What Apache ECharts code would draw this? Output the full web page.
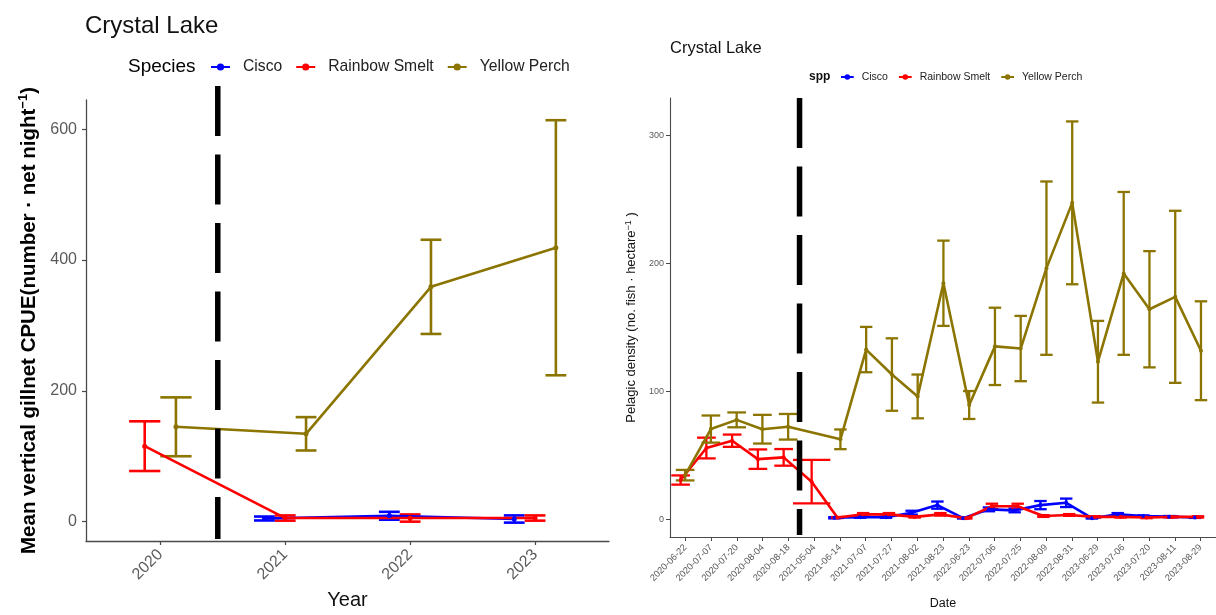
<!DOCTYPE html>
<html>
<head>
<meta charset="utf-8">
<script src="https://cdn.jsdelivr.net/npm/echarts@6/dist/echarts.min.js"></script>
<style>
  html, body { margin: 0; padding: 0; background: #fff; }
  #wrap { position: relative; width: 1216px; height: 615px; overflow: hidden; }
  #left { position: absolute; left: 0; top: 0; width: 610px; height: 615px; }
  #right { position: absolute; left: 610px; top: 0; width: 606px; height: 615px; }
</style>
</head>
<body>
<div id="wrap"><div id="left"></div><div id="right"></div></div>
<script>
// ---- Species ----
const SPECIES = ['Cisco', 'Rainbow Smelt', 'Yellow Perch'];
const SPECIES_COLORS = ['#0000FF', '#FF0000', '#8B7500'];

// ---- Vertical gillnet CPUE, by year (mean and standard error) ----
const years = [2020, 2021, 2022, 2023];
const gillCiscoMean = [null, 4.8, 9, 4];
const gillCiscoSE   = [null, 3, 6, 5.5];
const gillSmeltMean = [115.4, 5.5, 5.5, 5.5];
const gillSmeltSE   = [38, 4, 5.5, 4];
const gillPerchMean = [145, 134.3, 359, 418.8];
const gillPerchSE   = [45, 25.5, 72, 195];
const gillYTicks = [0, 200, 400, 600];
const gillBreakYear = 2020.46;

// ---- Pelagic density, by survey date (mean and standard error) ----
const surveyDates = ['2020-06-22', '2020-07-07', '2020-07-20', '2020-08-04', '2020-08-18',
  '2021-05-04', '2021-06-14', '2021-07-07', '2021-07-27', '2021-08-02', '2021-08-23',
  '2022-06-23', '2022-07-06', '2022-07-25', '2022-08-09', '2022-08-31',
  '2023-06-29', '2023-07-06', '2023-07-20', '2023-08-11', '2023-08-29'];
const densCiscoMean = [null, null, null, null, null, null, 1.5, 2, 2, 5.5, 11.4, 1.2, 8.1, 7.3, 11.4, 13.2, 1.2, 4.2, 2.9, 2.4, 1.7];
const densCiscoSE   = [null, null, null, null, null, null, 0.5, 0.5, 0.5, 1.5, 2.8, 0.3, 1.5, 1.5, 3.2, 3.3, 0.3, 1, 0.5, 0.5, 0.3];
const densSmeltMean = [31, 56, 61.7, 47.3, 48.7, 29.7, 1.7, 4.2, 4.2, 2.2, 4.2, 1.2, 10.5, 10.5, 2.9, 3.7, 2.2, 2.2, 1.7, 2.2, 2.2];
const densSmeltSE   = [3.6, 8.1, 4.8, 7.6, 6.5, 17, 0.4, 1, 1, 0.5, 1, 0.3, 2, 2, 0.7, 0.7, 0.5, 0.5, 0.5, 0.5, 0.5];
const densPerchMean = [34.8, 70.8, 78, 70.7, 72.6, null, 62.8, 132.9, 113.4, 96.3, 184.7, 89.6, 135.4, 133.7, 196.5, 247.5, 123.4, 192.4, 164.4, 174.1, 132];
const densPerchSE   = [4.1, 10.6, 5.8, 11.2, 10, null, 7.7, 17.7, 28.3, 17.1, 33.3, 10.9, 30.2, 25.5, 67.7, 63.6, 31.9, 63.6, 45.4, 67.2, 38.6];
const densYTicks = [0, 100, 200, 300];
const densBreakIndex = 4.43;

const FONT = '"Liberation Sans", Arial, sans-serif';
const TICK_GRAY = '#5a5a5a';
const AXIS_GRAY = '#4a4a4a';

// Error bar: vertical whisker plus two caps, cap width given in x-axis units.
function makeErrorRender(lineWidth) {
  return function (params, api) {
    const x = api.value(0), lo = api.value(1), hi = api.value(2), cw = api.value(3);
    const pt = api.coord([x, hi]);
    const pb = api.coord([x, lo]);
    const half = api.size([cw, 0])[0] / 2;
    const style = { stroke: api.visual('color'), lineWidth: lineWidth, fill: null };
    return {
      type: 'group',
      children: [
        { type: 'line', shape: { x1: pt[0], y1: pt[1], x2: pb[0], y2: pb[1] }, style: style },
        { type: 'line', shape: { x1: pt[0] - half, y1: pt[1], x2: pt[0] + half, y2: pt[1] }, style: style },
        { type: 'line', shape: { x1: pb[0] - half, y1: pb[1], x2: pb[0] + half, y2: pb[1] }, style: style }
      ]
    };
  };
}

// Dashed black reference line spanning the plot panel.
function makeBreakLine(xValue, extendTop) {
  return {
    type: 'custom',
    silent: true,
    z: 5,
    data: [[xValue, 0]],
    encode: { x: 0, y: 1 },
    renderItem: function (params, api) {
      const cs = params.coordSys;
      const x = api.coord([api.value(0), 0])[0];
      return {
        type: 'line',
        shape: { x1: x, y1: cs.y - extendTop, x2: x, y2: cs.y + cs.height - 2 },
        style: { stroke: '#000', lineWidth: 5.5, lineDash: [50, 18.5] }
      };
    }
  };
}

// Dodged line + error bar layers for each species.
function buildLayers(xs, means, ses, dodgeWidth, shift, capTotal, lineW, barW, symSize) {
  const n = xs.map((_, i) => means.filter(m => m[i] != null).length);
  const bars = [], lines = [];
  SPECIES.forEach((name, s) => {
    const pts = [], errs = [];
    xs.forEach((x, i) => {
      const m = means[s][i];
      if (m == null) return;
      const k = means.slice(0, s).filter(mm => mm[i] != null).length;
      const off = shift - dodgeWidth / 2 + dodgeWidth / n[i] * (k + 0.5);
      const xx = x + off;
      pts.push([xx, m]);
      errs.push([xx, m - ses[s][i], m + ses[s][i], capTotal / n[i]]);
    });
    bars.push({
      type: 'custom', name: name + ' SE', data: errs, z: 2,
      encode: { x: 0, y: [1, 2] },
      itemStyle: { color: SPECIES_COLORS[s] },
      renderItem: makeErrorRender(barW)
    });
    lines.push({
      type: 'line', name: name, data: pts, z: 3,
      symbol: 'circle', symbolSize: symSize, showSymbol: true,
      color: SPECIES_COLORS[s],
      itemStyle: { color: SPECIES_COLORS[s] },
      lineStyle: { width: lineW, color: SPECIES_COLORS[s] }
    });
  });
  return bars.concat(lines);
}

// ---------------- Left: gillnet CPUE ----------------
const leftChart = echarts.init(document.getElementById('left'), null, { renderer: 'canvas' });
leftChart.setOption({
  animation: false,
  backgroundColor: '#fff',
  textStyle: { fontFamily: FONT },
  title: [
    { text: 'Crystal Lake', left: 85, top: 14, padding: 0,
      textStyle: { fontFamily: FONT, fontSize: 24, fontWeight: 'normal', color: '#111' } },
    { text: 'Species', left: 128, top: 57, padding: 0,
      textStyle: { fontFamily: FONT, fontSize: 19, fontWeight: 'normal', color: '#000' } }
  ],
  legend: {
    data: SPECIES, left: 210, top: 59, padding: 0,
    itemWidth: 19, itemHeight: 9, itemGap: 13,
    textStyle: { fontFamily: FONT, fontSize: 15.7, color: '#222', padding: [0, 0, 0, 8] }
  },
  grid: { left: 86, top: 100, right: 1, bottom: 73, containLabel: false },
  xAxis: {
    type: 'value', min: 2019.405, max: 2023.592,
    name: 'Year', nameLocation: 'middle', nameGap: 49,
    nameTextStyle: { fontFamily: FONT, fontSize: 20, color: '#111' },
    axisLine: { show: true, onZero: false, lineStyle: { color: AXIS_GRAY, width: 1.3 } },
    axisTick: { show: true, length: 4, customValues: years, lineStyle: { color: AXIS_GRAY, width: 1.2 } },
    axisLabel: { customValues: years, rotate: 45, margin: 11, fontFamily: FONT, fontSize: 16, color: TICK_GRAY,
      formatter: v => String(Math.round(v)) },
    splitLine: { show: false }
  },
  yAxis: {
    type: 'value', min: -29.6, max: 644.7,
    name: '{t|Mean vertical gillnet CPUE(number · net night}{s|−1}{t|)}',
    nameLocation: 'middle', nameRotate: 90, nameGap: 44,
    nameTextStyle: {
      rich: {
        t: { fontFamily: FONT, fontSize: 20.5, fontWeight: 'bold', color: '#000' },
        s: { fontFamily: FONT, fontSize: 13, fontWeight: 'bold', color: '#000', verticalAlign: 'top', padding: [0, 0, 10, 0] }
      }
    },
    axisLine: { show: true, onZero: false, lineStyle: { color: AXIS_GRAY, width: 1.3 } },
    axisTick: { show: true, length: 4, customValues: gillYTicks, lineStyle: { color: AXIS_GRAY, width: 1.2 } },
    axisLabel: { customValues: gillYTicks, margin: 9, fontFamily: FONT, fontSize: 16, color: TICK_GRAY },
    splitLine: { show: false }
  },
  series: buildLayers(years,
    [gillCiscoMean, gillSmeltMean, gillPerchMean],
    [gillCiscoSE, gillSmeltSE, gillPerchSE],
    0.5, 0, 0.5, 2.6, 2.6, 5).concat([makeBreakLine(gillBreakYear, 14)])
});

// ---------------- Right: pelagic density ----------------
const surveyIndex = surveyDates.map((_, i) => i);
const rightChart = echarts.init(document.getElementById('right'), null, { renderer: 'canvas' });
rightChart.setOption({
  animation: false,
  backgroundColor: '#fff',
  textStyle: { fontFamily: FONT },
  title: [
    { text: 'Crystal Lake', left: 60, top: 40, padding: 0,
      textStyle: { fontFamily: FONT, fontSize: 16.5, fontWeight: 'normal', color: '#111' } },
    { text: 'spp', left: 199, top: 71, padding: 0,
      textStyle: { fontFamily: FONT, fontSize: 12, fontWeight: 'bold', color: '#111' } }
  ],
  legend: {
    data: SPECIES, left: 230, top: 71.5, padding: 0,
    itemWidth: 12.7, itemHeight: 7, itemGap: 10,
    textStyle: { fontFamily: FONT, fontSize: 10.5, color: '#222', padding: [0, 0, 0, 3] }
  },
  grid: { left: 60, top: 98, right: -9, bottom: 72, containLabel: false },
  xAxis: {
    type: 'value', min: -0.6, max: 20.6,
    name: 'Date', nameLocation: 'middle', nameGap: 60,
    nameTextStyle: { fontFamily: FONT, fontSize: 12.5, color: '#111' },
    axisLine: { show: true, onZero: false, lineStyle: { color: AXIS_GRAY, width: 1.1 } },
    axisTick: { show: true, length: 4, customValues: surveyIndex, lineStyle: { color: AXIS_GRAY, width: 1 } },
    axisLabel: { customValues: surveyIndex, rotate: 45, margin: 9, fontFamily: FONT, fontSize: 9.3, color: TICK_GRAY,
      formatter: v => surveyDates[Math.round(v)] },
    splitLine: { show: false }
  },
  yAxis: {
    type: 'value', min: -13.5, max: 329.4,
    name: '{t|Pelagic density (no. fish · hectare}{s|−1}{t| )}',
    nameLocation: 'middle', nameRotate: 90, nameGap: 29,
    nameTextStyle: {
      rich: {
        t: { fontFamily: FONT, fontSize: 13, color: '#111' },
        s: { fontFamily: FONT, fontSize: 9, color: '#111', verticalAlign: 'top', padding: [0, 0, 7, 0] }
      }
    },
    axisLine: { show: true, onZero: false, lineStyle: { color: AXIS_GRAY, width: 1.1 } },
    axisTick: { show: true, length: 4, customValues: densYTicks, lineStyle: { color: AXIS_GRAY, width: 1 } },
    axisLabel: { customValues: densYTicks, margin: 6, fontFamily: FONT, fontSize: 9, color: TICK_GRAY },
    splitLine: { show: false }
  },
  series: buildLayers(surveyIndex,
    [densCiscoMean, densSmeltMean, densPerchMean],
    [densCiscoSE, densSmeltSE, densPerchSE],
    0.35, -0.1, 1.45, 2.6, 2.3, 4).concat([makeBreakLine(densBreakIndex, 0)])
});
</script>
</body>
</html>
